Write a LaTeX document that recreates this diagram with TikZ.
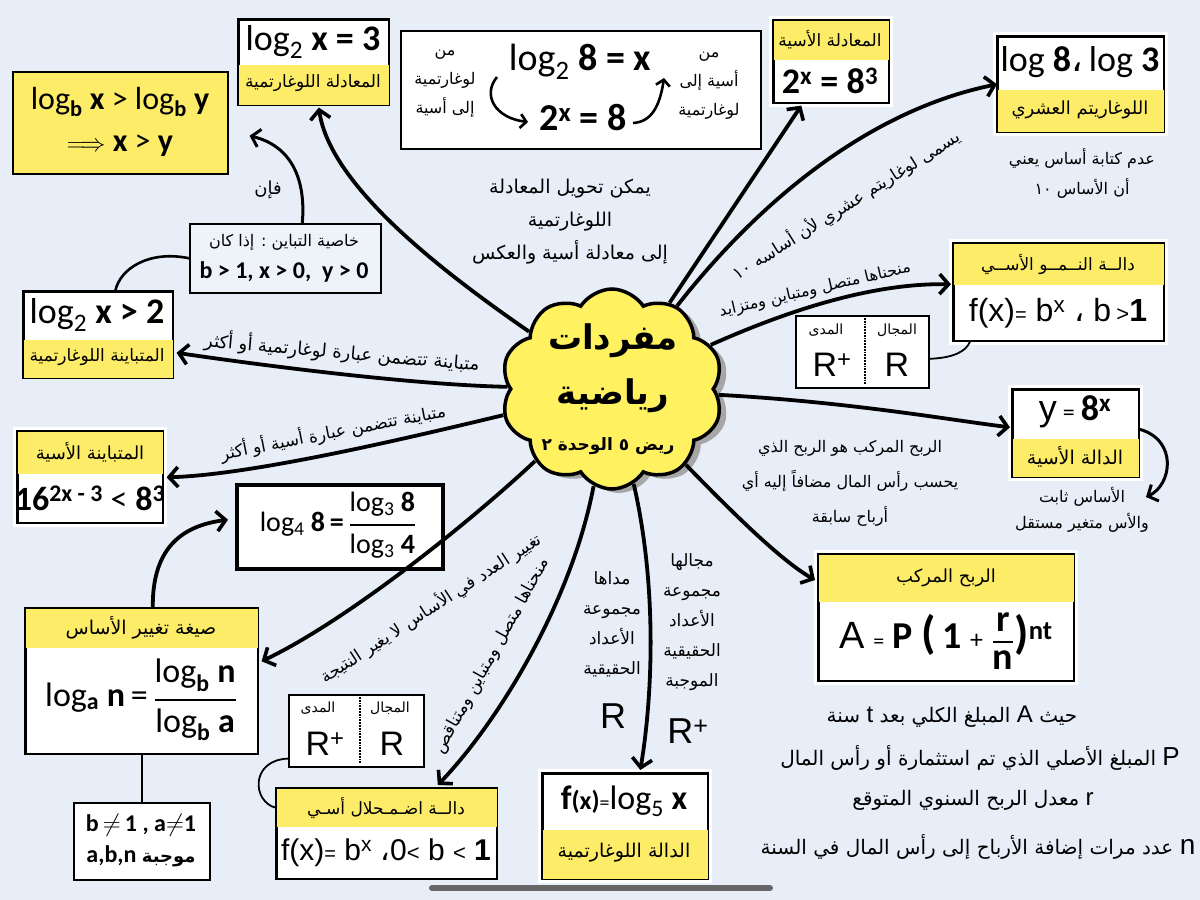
\documentclass[tikz,border=0pt]{standalone}
\usepackage{fontspec}
\setmainfont{Carlito}
\newfontfamily\arabicfont[Script=Arabic]{DejaVu Sans}
\newfontfamily\arial{Liberation Sans}
\TeXXeTstate=1
\usetikzlibrary{arrows.meta,shapes.symbols,shadows,calc}
\newcommand\ar[1]{{\arabicfont\beginR #1\endR}}
\newcommand\fs[2]{\fontsize{#1}{#2}\selectfont}
\newcommand\fracb[2]{$\displaystyle{\hbox{#1}\above 2.5pt\hbox{#2}}$}
\newcommand\bx[6][]{\node[box,minimum width={(#5-#3)*1pt},minimum height={(#6-#4)*1pt},#1] (#2) at (#3,#4) {};}
\newcommand\topband[2]{\fill[yel] (#1.north west) rectangle ($(#1.north east)+(0,#2)$);}
\newcommand\botband[2]{\fill[yel] ($(#1.south west)+(0,-#2)$) rectangle (#1.south east);}
\newcommand\outl[2][1.6pt]{\draw[line width=#1] (#2.north west) rectangle (#2.south east);}
\definecolor{bg}{RGB}{231,238,248}
\definecolor{yel}{RGB}{253,236,104}
\definecolor{cloudy}{RGB}{255,241,95}
\definecolor{propfill}{RGB}{238,243,250}
\begin{document}
\begin{tikzpicture}[x=1pt,y=-1pt,
  box/.style={draw,line width=1.6pt,fill=white,anchor=north west,inner sep=0pt},
  halo/.style={preaction={draw=white,line width=9pt}},
  band/.style={font=\arabicfont\fs{17}{20},inner sep=0pt},
  curvelbl/.style={font=\arabicfont\fs{17}{19},inner sep=0pt},
  txt/.style={font=\arabicfont\fs{16}{30},align=center,inner sep=0pt},
  frm/.style={inner sep=0pt},
  conn/.style={line width=3.8pt,-{Straight Barb[length=9pt,width=20pt,line width=3.6pt]}},
  mconn/.style={line width=3pt,-{Straight Barb[length=8pt,width=18pt,line width=3pt]}},
  sconn/.style={line width=2.6pt,-{Straight Barb[length=6pt,width=14pt,line width=2.6pt]}},
  plain/.style={line width=2.6pt},
  thin/.style={line width=1.8pt}]
\useasboundingbox (0,0) rectangle (1200,900);
\fill[bg] (0,0) rectangle (1200,900);

% ---------- boxes ----------
% top-left yellow
\bx[fill=yel]{tl}{12}{71}{227}{173}
\node[frm,font=\fs{32}{42},align=center] (tl-t) at (120,122) {log\textsubscript{\textbf{b}} \textbf{x} > log\textsubscript{\textbf{b}} \textbf{y}\\ $\Longrightarrow$ \textbf{x} > \textbf{y}};

% log2 x = 3
\bx{lb3}{238}{19}{388}{104}
\botband{lb3}{41}
\outl{lb3}
\node[frm,font=\fs{36}{40}] (lb3-t) at (313,42) {log\textsubscript{2} \textbf{x = 3}};
\node[band] (lb3-l) at (313,83) {\ar{المعادلة اللوغارتمية}};

% property box
\bx[fill=propfill]{prop}{189}{223}{380}{292}
\node[frm,font=\arabicfont\fs{16}{18}] (prop-t1) at (284,242) {\ar{خاصية التباين : إذا كان}};
\node[frm,font=\fs{24}{26}] (prop-t2) at (284,272) {\textbf{b > 1, x > 0, \ y > 0}};

% conversion box
\bx{conv}{400}{30}{760}{148}
\node[frm,font=\fs{38}{40}] (conv-a) at (580,62) {log\textsubscript{2} \textbf{8 = x}};
\node[frm,font=\fs{38}{40}] (conv-b) at (583,118) {\textbf{2\textsuperscript{x} = 8}};
\node[txt,font=\arabicfont\fs{16}{29}] (conv-l) at (445,84) {\ar{من}\\\ar{لوغارتمية}\\\ar{إلى أسية}};
\node[txt,font=\arabicfont\fs{16}{29}] (conv-r) at (709,86) {\ar{من}\\\ar{أسية إلى}\\\ar{لوغارتمية}};
\coordinate (cvl1) at (497,77);
\coordinate (cvl2) at (528,122);
\coordinate (cvr1) at (633,123);
\coordinate (cvr2) at (664,78);
\draw[sconn] (cvl1) .. controls (482,95) and (495,118) .. (cvl2);
\draw[sconn] (cvr1) .. controls (652,122) and (660,105) .. (cvr2);

% exponential equation
\bx[halo]{exeq}{773}{20}{888}{102}
\topband{exeq}{40}
\outl{exeq}
\node[band] (exeq-l) at (830,40) {\ar{المعادلة الأسية}};
\node[frm,font=\fs{36}{40}] (exeq-t) at (830,81) {\textbf{2\textsuperscript{x} = 8\textsuperscript{3}}};

% common log
\bx[halo]{log8}{997}{36}{1163}{131}
\botband{log8}{43}
\outl{log8}
\node[frm,font=\fs{36}{40}] (log8-t) at (1080,62) {log \textbf{8}{\arabicfont ،}\,log \textbf{3}};
\node[band,font=\arabicfont\fs{18}{20}] (log8-l) at (1080,110) {\ar{اللوغاريتم العشري}};
\node[txt] (log8-n) at (1082,173) {\ar{عدم كتابة أساس يعني}\\\ar{أن الأساس ١٠}};

% growth
\bx[halo]{growth}{953}{243}{1163}{340}
\topband{growth}{42}
\outl{growth}
\node[band] (growth-l) at (1058,264) {\ar{دالــة النــمــو الأســي}};
\node[frm,font=\arial\fs{32}{36}] (growth-t) at (1058,313) {f(x){\fs{20}{20}=} b\textsuperscript{x} {\arabicfont ،} b\,{\fs{22}{22}>}\textbf{1}};

% domain/range 1
\bx{dom1}{795}{315}{928}{387}
\draw[thin,densely dotted] (865,318) -- (865,384);
\node[frm,font=\arabicfont\fs{14}{16}] (dom1-a) at (826,330) {\ar{المدى}};
\node[frm,font=\arabicfont\fs{14}{16}] (dom1-b) at (897,330) {\ar{المجال}};
\node[frm,font=\arial\fs{34}{36}] (dom1-c) at (832,365) {R\textsuperscript{+}};
\node[frm,font=\arial\fs{34}{36}] (dom1-d) at (897,365) {R};
\draw[thin] ($(dom1.east)+(0,7)$) .. controls (952,358) and (966,352) .. ($(growth.south west)+(17,0)$);

% y = 8^x
\bx[halo]{y8x}{1012}{389}{1138}{476}
\botband{y8x}{39}
\outl{y8x}
\node[frm,font=\fs{36}{40}] (y8x-t) at (1075,412) {{\arial y}\,{\fs{24}{24}=}\,\textbf{8\textsuperscript{x}}};
\node[band,font=\arabicfont\fs{19}{21}] (y8x-l) at (1075,457) {\ar{الدالة الأسية}};
\coordinate (y8xend) at (1146,497);
\draw[mconn] ($(y8x.east)+(0,-4)$) .. controls (1178,440) and (1172,485) .. (y8xend);
\node[txt,font=\arabicfont\fs{16}{26}] (y8x-n) at (1082,510) {\ar{الأساس ثابت}\\\ar{والأس متغير مستقل}};

% compound interest text
\node[txt,font=\arabicfont\fs{16}{35}] (ci-txt) at (850,483) {\ar{الربح المركب هو الربح الذي}\\\ar{يحسب رأس المال مضافاً إليه أي}\\\ar{أرباح سابقة}};

% compound interest box
\bx[halo]{comp}{818}{554}{1073}{680}
\topband{comp}{48}
\outl{comp}
\node[band,font=\arabicfont\fs{18}{20}] (comp-l) at (946,578) {\ar{الربح المركب}};
\node[frm,font=\fs{38}{40}] (comp-t) at (946,641) {{\arial A} {\fs{22}{22}=} \textbf{P}\ {\fs{46}{46}\textbf{(}}\,\textbf{1} {\fs{26}{26}+} \fracb{\textbf{r}}{\textbf{n}}{\fs{46}{46}\textbf{)}}\textsuperscript{\textbf{nt}}};

% legend lines
\node[frm,font=\arabicfont\fs{20}{22}] (leg1) at (952,717) {\ar{حيث {\arial\fs{24}{24}A} المبلغ الكلي بعد {\arial\fs{24}{24}t} سنة}};
\node[frm,font=\arabicfont\fs{20}{22}] (leg2) at (980,758) {\ar{{\arial\fs{26}{26}P} المبلغ الأصلي الذي تم استثمارة أو رأس المال}};
\node[frm,font=\arabicfont\fs{20}{22}] (leg3) at (973,800) {\ar{{\arial\fs{24}{24}r} معدل الربح السنوي المتوقع}};
\node[frm,font=\arabicfont\fs{20}{22}] (leg4) at (978,847) {\ar{{\arial\fs{28}{28}n} عدد مرات إضافة الأرباح إلى رأس المال في السنة}};

% log function
\bx[halo]{log5}{542}{773}{707}{878}
\botband{log5}{50}
\outl{log5}
\node[frm,font=\fs{34}{38}] (log5-t) at (624,801) {\textbf{f}{\fs{26}{26}\textbf{(x)}}{\fs{20}{20}=}log\textsubscript{5} \textbf{x}};
\node[band,font=\arabicfont\fs{19}{21}] (log5-l) at (624,853) {\ar{الدالة اللوغارتمية}};
\node[txt,font=\arabicfont\fs{17}{30}] (rng-t) at (612,624) {\ar{مداها}\\\ar{مجموعة}\\\ar{الأعداد}\\\ar{الحقيقية}};
\node[frm,font=\arial\fs{36}{38}] (rng-r) at (613,716) {R};
\node[txt,font=\arabicfont\fs{17}{30}] (dmn-t) at (692,622) {\ar{مجالها}\\\ar{مجموعة}\\\ar{الأعداد}\\\ar{الحقيقية}\\\ar{الموجبة}};
\node[frm,font=\arial\fs{36}{38}] (dmn-r) at (688,731) {R\textsuperscript{+}};

% decay
\bx{decay}{276}{788}{496}{878}
\topband{decay}{39}
\outl{decay}
\node[band] (decay-l) at (386,808) {\ar{دالــة اضـمـحلال أسـي}};
\node[frm,font=\arial\fs{30}{34}] (decay-t) at (386,853) {f(x){\fs{20}{20}=} b\textsuperscript{x} {\arabicfont ،}0{\fs{22}{22}<} b {\fs{22}{22}<} \textbf{1}};

% domain/range 2
\bx{dom2}{288}{694}{423}{766}
\draw[thin,densely dotted] (360,697) -- (360,763);
\node[frm,font=\arabicfont\fs{14}{16}] (dom2-a) at (318,708) {\ar{المدى}};
\node[frm,font=\arabicfont\fs{14}{16}] (dom2-b) at (390,708) {\ar{المجال}};
\node[frm,font=\arial\fs{34}{36}] (dom2-c) at (325,744) {R\textsuperscript{+}};
\node[frm,font=\arial\fs{34}{36}] (dom2-d) at (392,744) {R};
\draw[thin] ($(dom2.south west)+(0,-9)$) .. controls (250,760) and (252,802) .. ($(decay.west)+(0,-26)$);

% change of base
\bx{cob}{25}{608}{257}{753}
\topband{cob}{40}
\outl{cob}
\node[band,font=\arabicfont\fs{19}{21}] (cob-l) at (141,628) {\ar{صيغة تغيير الأساس}};
\node[frm,font=\fs{34}{38}] (cob-t) at (141,700) {log\textsubscript{\textbf{a}} \textbf{n}\,=\,\fracb{log\textsubscript{\textbf{b}} \textbf{n}}{log\textsubscript{\textbf{b}} \textbf{a}}};
\bx{small}{73}{802}{209}{879}
\node[frm,font=\fs{24}{26}] (small-t1) at (141,825) {\textbf{b$\,\neq\,$1 , a$\neq$1}};
\node[frm,font=\fs{24}{26}] (small-t2) at (141,856) {\textbf{a,b,n} {\arabicfont\bfseries\fs{18}{20}\beginR موجبة\endR}};
\draw[plain] (cob.south) -- (small.north);

% log4 example
\bx[line width=3.5pt]{log4}{235}{483}{441}{567}
\node[frm,font=\fs{28}{32}] (log4-t) at (338,525) {log\textsubscript{4} \textbf{8\,=\,}\fracb{log\textsubscript{3} \textbf{8}}{log\textsubscript{3} \textbf{4}}};
\draw[conn] ($(cob.north)+(11,0)$) .. controls (152,552) and (178,526) .. ($(log4.west)+(-7,-7)$);

% exponential inequality
\bx[halo]{exineq}{17}{431}{162}{522}
\topband{exineq}{43}
\outl{exineq}
\node[band,font=\arabicfont\fs{18}{20}] (exineq-l) at (90,452) {\ar{المتباينة الأسية}};
\node[frm,font=\fs{34}{38}] (exineq-t) at (90,498) {\textbf{16}\textsuperscript{\textbf{2x - 3}} < \textbf{8}\textsuperscript{\textbf{3}}};

% log inequality
\bx{lineq}{23}{291}{172}{377}
\botband{lineq}{39}
\outl{lineq}
\node[frm,font=\fs{36}{40}] (lineq-t) at (97,315) {log\textsubscript{2} \textbf{x > 2}};
\node[band] (lineq-l) at (97,357) {\ar{المتباينة اللوغارتمية}};

% connectors of property box
\draw[mconn] ($(prop.north)+(17,0)$) .. controls (306,180) and (292,146) .. ($(tl.east)+(21,13)$);
\node[frm,font=\arabicfont\fs{18}{20}] (fa) at (268,190) {\ar{فإن}};
\draw[plain] (prop.west) .. controls (150,250) and (120,268) .. ($(lineq.north)+(17,0)$);

% ---------- centre ----------
\node[cloud,cloud puffs=10,cloud puff arc=115,aspect=1.1,draw,line width=3.5pt,fill=cloudy,
      minimum width=222pt,minimum height=200pt,
      drop shadow={shadow xshift=7pt,shadow yshift=-4pt,fill=gray!70,opacity=1}] (cloud) at (612,389) {};
\node[frm,font=\arabicfont\bfseries\fs{34}{36}] (cl-1) at (613,341) {\ar{مفردات}};
\node[frm,font=\arabicfont\bfseries\fs{34}{36}] (cl-2) at (613,396) {\ar{رياضية}};
\node[frm,font=\arabicfont\bfseries\fs{17}{20}] (cl-3) at (608,446) {\ar{ريض ٥ الوحدة ٢}};

\node[txt,font=\arabicfont\fs{19}{33}] (conv-note) at (570,222) {\ar{يمكن تحويل المعادلة}\\\ar{اللوغارتمية}\\\ar{إلى معادلة أسية والعكس}};

% ---------- connectors from centre ----------
\draw[conn] (cloud) .. controls (440,270) and (330,185) .. ($(lb3.south)+(5,2)$);
\draw[conn] (cloud) -- ($(exeq.south)+(-30,2)$);
\draw[conn] (cloud) .. controls (760,200) and (870,110) .. (log8.west);
\draw[conn] (cloud) .. controls (800,305) and (880,283) .. ($(growth.west)+(-2,-8)$);
\draw[conn] (cloud) .. controls (850,402) and (950,420) .. ($(y8x.west)+(-2,-6)$);
\draw[conn] (cloud) .. controls (730,510) and (780,560) .. ($(comp.north west)+(-3,26)$);
\draw[conn] (cloud) .. controls (658,590) and (652,700) .. ($(log5.north)+(15,-3)$);
\draw[conn] (cloud) .. controls (572,600) and (500,720) .. ($(decay.north)+(51,-3)$);
\draw[conn] (cloud) .. controls (470,522) and (348,620) .. ($(cob.east)+(3,-20)$);
\draw[conn] (cloud) .. controls (400,440) and (250,475) .. ($(exineq.east)+(3,0)$);
\draw[conn] (cloud) .. controls (420,385) and (280,368) .. ($(lineq.east)+(3,18)$);

% ---------- connector labels ----------
\node[curvelbl,rotate=32] (lbl-c) at (846,205) {\ar{يسمى لوغاريتم عشري لأن أساسه ١٠}};
\node[curvelbl,font=\arabicfont\fs{16}{18},rotate=13] (lbl-e) at (815,290) {\ar{منحناها متصل ومتباين ومتزايد}};
\node[curvelbl,font=\arabicfont\fs{18}{20},rotate=-5] (lbl-l) at (342,352) {\ar{متباينة تتضمن عبارة لوغارتمية أو أكثر}};
\node[curvelbl,rotate=11] (lbl-k) at (333,432) {\ar{متباينة تتضمن عبارة أسية أو أكثر}};
\node[curvelbl,rotate=33] (lbl-j) at (431,608) {\ar{تغيير العدد في الأساس لا يغير النتيجة}};
\node[curvelbl,rotate=61] (lbl-i) at (492,656) {\ar{منحناها متصل ومتباين ومتناقص}};

% home indicator
\draw[line width=6pt,line cap=round,gray!80!black] (432,888) -- (770,888);
\end{tikzpicture}
\end{document}
